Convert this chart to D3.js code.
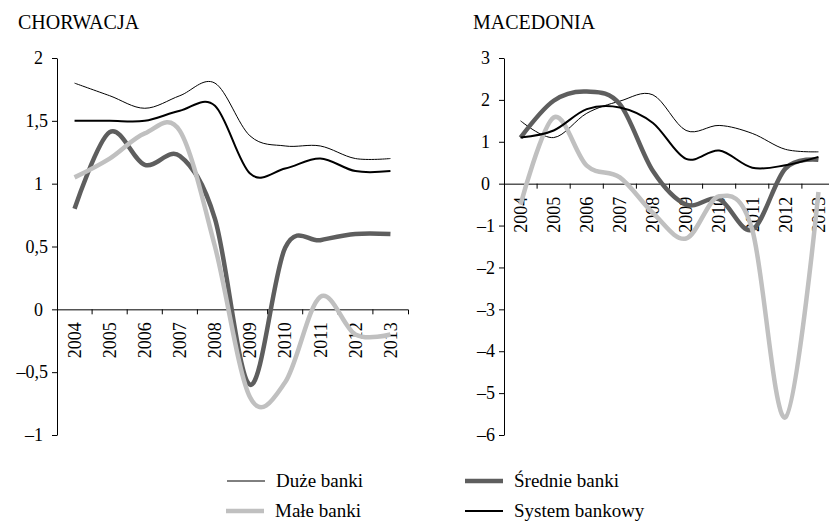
<!DOCTYPE html>
<html>
<head>
<meta charset="utf-8">
<script src="https://d3js.org/d3.v7.min.js"></script>
<style>
  body { margin: 0; background: #fff; }
  svg { display: block; }
</style>
</head>
<body>
<div id="chart"></div>
<script>
// data
const years = ['2004', '2005', '2006', '2007', '2008', '2009', '2010', '2011', '2012', '2013'];

const hrDuze    = [1.8, 1.7, 1.6, 1.7, 1.8, 1.38, 1.3, 1.3, 1.2, 1.2];
const hrSrednie = [0.8, 1.41, 1.15, 1.22, 0.72, -0.6, 0.49, 0.55, 0.6, 0.6];
const hrMale    = [1.05, 1.2, 1.4, 1.42, 0.5, -0.7, -0.58, 0.1, -0.2, -0.2];
const hrSystem  = [1.5, 1.5, 1.5, 1.58, 1.62, 1.08, 1.12, 1.2, 1.1, 1.1];

const mkDuze    = [1.5, 1.1, 1.68, 1.97, 2.12, 1.27, 1.39, 1.2, 0.82, 0.76];
const mkSrednie = [1.1, 1.98, 2.2, 1.9, 0.3, -0.5, -0.37, -1.1, 0.36, 0.57];
const mkMale    = [-0.5, 1.58, 0.43, 0.15, -0.7, -1.31, -0.3, -1.1, -5.58, -0.2];
const mkSystem  = [1.1, 1.27, 1.78, 1.82, 1.45, 0.59, 0.79, 0.38, 0.44, 0.64];

const hrTicks = [-1, -0.5, 0, 0.5, 1, 1.5, 2];
const mkTicks = [-6, -5, -4, -3, -2, -1, 0, 1, 2, 3];

const seriesNames = ['Duże banki', 'Średnie banki', 'Małe banki', 'System bankowy'];
const seriesColors = ['#000000', '#5e5e5e', '#c0c0c0', '#000000'];
const seriesWidths = [1, 4.5, 4.5, 2];

const W = 829, H = 522;
const plotTop = 58, plotBottom = 435;

const svg = d3.select('#chart').append('svg')
  .attr('width', W)
  .attr('height', H)
  .style('font-family', '"Liberation Serif", "Times New Roman", serif');

const fmt = v => (v < 0 ? '–' : '') + String(Math.abs(v)).replace('.', ',');

function drawPanel(title, titleX, left, right, domain, ticks, data, shiftLabel) {
  const g = svg.append('g');
  const x = d3.scaleBand().domain(years).range([left, right]);
  const y = d3.scaleLinear().domain(domain).range([plotBottom, plotTop]);

  g.append('text')
    .attr('x', titleX).attr('y', 29)
    .style('font-size', '20px')
    .text(title);

  // y axis
  const ya = g.append('g')
    .attr('transform', `translate(${left},0)`)
    .call(d3.axisLeft(y).tickValues(ticks).tickFormat(fmt).tickSize(5).tickSizeOuter(0));
  ya.select('.domain').attr('stroke', '#000');
  ya.selectAll('.tick line').attr('stroke', '#000');
  ya.selectAll('.tick text')
    .attr('x', -9)
    .attr('dx', d => shiftLabel(d) ? -5 : 0)
    .style('font-size', '18px')
    .style('font-family', '"Liberation Serif", serif')
    .attr('fill', '#000');

  // x axis on zero line, ticks between categories
  const xa = g.append('g')
    .attr('transform', `translate(0,${y(0)})`)
    .call(d3.axisBottom(x).tickSize(0).tickSizeOuter(5));
  xa.select('.domain').attr('stroke', '#000');
  xa.selectAll('.tick text')
    .attr('transform', 'rotate(-90)')
    .attr('text-anchor', 'end')
    .attr('x', -13)
    .attr('y', 0)
    .attr('dy', '0.35em')
    .style('font-size', '18px')
    .style('font-family', '"Liberation Serif", serif')
    .attr('fill', '#000');
  xa.selectAll('.sep')
    .data(years.slice(1))
    .enter().append('line')
    .attr('class', 'sep')
    .attr('x1', d => x(d)).attr('x2', d => x(d))
    .attr('y1', 0).attr('y2', 5)
    .attr('stroke', '#000');

  const line = d3.line()
    .x((d, i) => x(years[i]) + x.bandwidth() / 2)
    .y(d => y(d))
    .curve(d3.curveCardinal.tension(0));

  data.forEach((vals, k) => {
    g.append('path')
      .datum(vals)
      .attr('d', line)
      .attr('fill', 'none')
      .attr('stroke', seriesColors[k])
      .attr('stroke-width', seriesWidths[k])
      .attr('stroke-linejoin', 'round');
  });
}

drawPanel('CHORWACJA', 18, 57, 408, [-1, 2], hrTicks,
  [hrDuze, hrSrednie, hrMale, hrSystem],
  d => Number.isInteger(d));

drawPanel('MACEDONIA', 473, 504, 835, [-6, 3], mkTicks,
  [mkDuze, mkSrednie, mkMale, mkSystem],
  d => d >= 0);

// legend, two columns
const legendPos = [[227, 481], [465, 481], [226, 511], [465, 511]];
const legend = svg.append('g');
seriesNames.forEach((name, k) => {
  const [lx, ly] = legendPos[k];
  legend.append('line')
    .attr('x1', lx).attr('x2', lx + 38)
    .attr('y1', ly).attr('y2', ly)
    .attr('stroke', seriesColors[k])
    .attr('stroke-width', seriesWidths[k]);
  legend.append('text')
    .attr('x', lx + 49).attr('y', ly + 6)
    .style('font-size', '19px')
    .text(name);
});
</script>
</body>
</html>
